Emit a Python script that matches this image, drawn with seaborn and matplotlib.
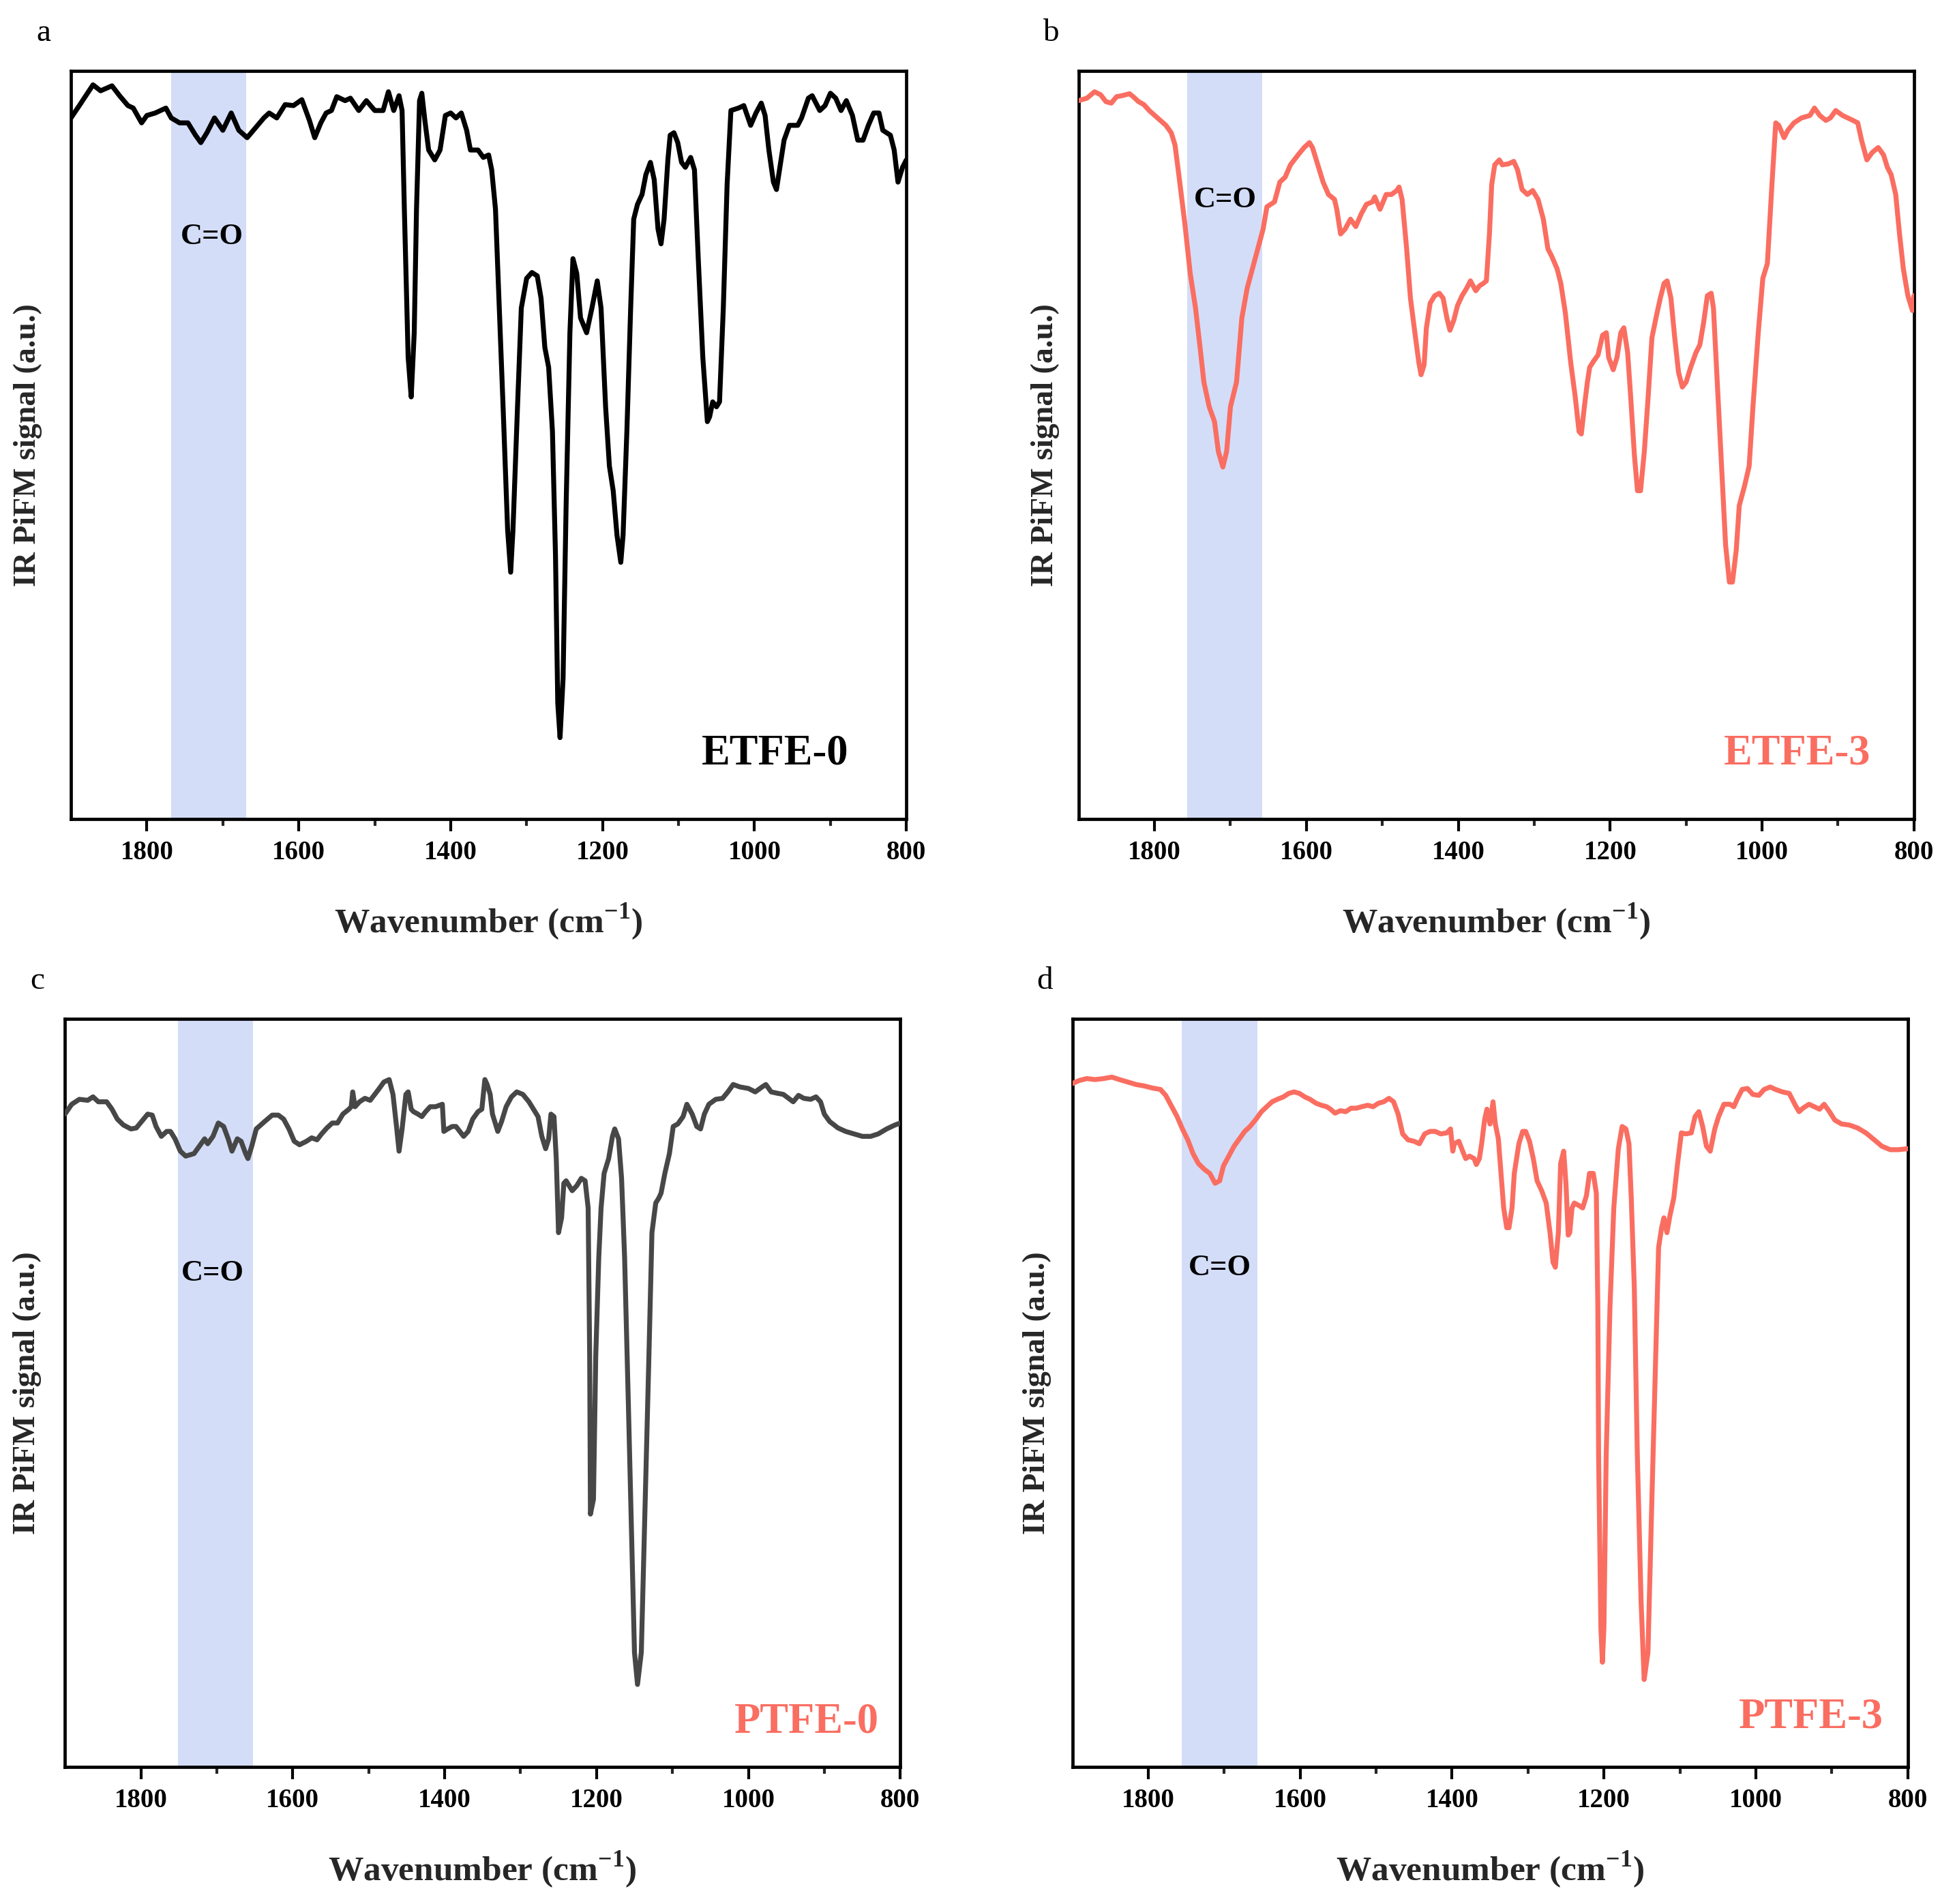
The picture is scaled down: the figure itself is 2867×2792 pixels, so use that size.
import pandas as pd
import seaborn as sns
import matplotlib.pyplot as plt

# ---- data (wavenumber in cm-1, IR PiFM signal in a.u.) ----
etfe0_wn = [1900, 1889, 1871, 1861, 1846, 1836, 1825, 1818, 1807, 1800,
            1789, 1782, 1775, 1768, 1757, 1746, 1736, 1729, 1721, 1711,
            1700, 1689, 1679, 1668, 1657, 1646, 1639, 1629, 1618, 1607,
            1596, 1586, 1579, 1571, 1564, 1557, 1550, 1539, 1532, 1521,
            1511, 1500, 1489, 1482, 1475, 1468, 1464, 1461, 1456, 1452,
            1448, 1445, 1441, 1438, 1434, 1429, 1421, 1414, 1407, 1400,
            1393, 1386, 1379, 1374, 1364, 1357, 1350, 1346, 1341, 1336,
            1331, 1325, 1321, 1318, 1312, 1307, 1300, 1293, 1286, 1281,
            1276, 1271, 1266, 1262, 1259, 1256, 1252, 1248, 1243, 1239,
            1234, 1229, 1221, 1214, 1207, 1202, 1196, 1191, 1186, 1181,
            1176, 1173, 1168, 1163, 1159, 1154, 1148, 1143, 1137, 1132,
            1127, 1123, 1119, 1114, 1111, 1106, 1101, 1096, 1091, 1084,
            1079, 1074, 1068, 1062, 1059, 1055, 1050, 1046, 1041, 1036,
            1031, 1021, 1014, 1005, 998, 991, 986, 981, 975, 971,
            967, 961, 954, 943, 938, 929, 924, 914, 907, 900,
            893, 886, 879, 871, 864, 857, 850, 843, 836, 831,
            821, 816, 811, 805, 800]
etfe0_signal = [142.0, 144.5, 148.7, 147.5, 148.5, 146.5, 144.5, 144.0, 141.0, 142.5,
                143.0, 143.5, 144.0, 142.0, 141.0, 141.0, 138.5, 137.0, 139.0, 142.0,
                139.5, 143.0, 139.5, 138.0, 140.0, 142.0, 143.0, 142.0, 144.7, 144.5,
                145.7, 141.5, 138.0, 141.0, 143.0, 143.5, 146.3, 145.5, 146.0, 143.5,
                145.5, 143.5, 143.5, 147.3, 143.5, 146.5, 143.5, 123.5, 93.5, 85.5,
                98.5, 123.5, 145.5, 147.0, 141.5, 135.5, 133.5, 135.5, 142.5, 143.0,
                142.0, 143.0, 139.5, 135.5, 135.5, 134.0, 134.5, 131.5, 123.5, 103.5,
                83.5, 58.5, 50.0, 58.5, 83.5, 103.5, 109.5, 110.7, 110.0, 105.5,
                95.5, 91.5, 78.5, 53.5, 23.5, 16.5, 28.5, 63.5, 98.5, 113.5,
                110.5, 101.5, 98.5, 103.5, 109.0, 103.5, 83.5, 71.5, 66.5, 57.5,
                52.0, 57.5, 78.5, 103.5, 121.5, 124.5, 126.5, 130.5, 133.0, 129.5,
                119.5, 116.5, 121.5, 133.5, 138.5, 139.0, 137.0, 133.0, 132.0, 134.0,
                131.5, 113.5, 93.5, 80.5, 81.5, 84.5, 83.5, 84.5, 103.5, 128.5,
                143.5, 144.0, 144.5, 140.5, 143.0, 145.0, 142.5, 135.5, 129.0, 127.5,
                131.5, 137.5, 140.5, 140.5, 142.0, 146.0, 146.5, 143.5, 144.5, 147.0,
                146.0, 143.5, 145.5, 142.5, 137.5, 137.5, 140.5, 143.0, 143.0, 139.5,
                138.5, 135.5, 129.0, 132.0, 133.5]

etfe3_wn = [1900, 1889, 1879, 1871, 1864, 1857, 1850, 1843, 1833, 1828,
            1821, 1814, 1807, 1796, 1785, 1778, 1773, 1768, 1760, 1753,
            1746, 1740, 1735, 1728, 1721, 1716, 1710, 1705, 1700, 1692,
            1685, 1678, 1671, 1664, 1657, 1652, 1642, 1635, 1628, 1621,
            1611, 1603, 1596, 1592, 1585, 1578, 1571, 1563, 1560, 1555,
            1549, 1542, 1535, 1528, 1521, 1513, 1510, 1503, 1495, 1488,
            1481, 1478, 1474, 1468, 1463, 1458, 1452, 1449, 1445, 1442,
            1437, 1431, 1425, 1420, 1415, 1411, 1406, 1401, 1395, 1389,
            1384, 1377, 1372, 1367, 1363, 1359, 1356, 1352, 1346, 1342,
            1334, 1327, 1322, 1316, 1309, 1302, 1295, 1288, 1282, 1277,
            1270, 1265, 1259, 1252, 1246, 1241, 1238, 1234, 1230, 1227,
            1222, 1216, 1210, 1205, 1202, 1196, 1191, 1186, 1182, 1177,
            1173, 1168, 1164, 1160, 1155, 1150, 1145, 1139, 1134, 1129,
            1125, 1120, 1115, 1110, 1105, 1100, 1094, 1087, 1082, 1077,
            1072, 1067, 1064, 1059, 1053, 1048, 1043, 1039, 1034, 1030,
            1023, 1017, 1012, 1005, 999, 993, 987, 982, 978, 971,
            966, 958, 948, 937, 931, 924, 916, 910, 903, 894,
            883, 874, 869, 862, 855, 847, 840, 835, 830, 824,
            819, 814, 808, 802, 800]
etfe3_signal = [145.5, 146.0, 147.3, 146.7, 145.3, 145.0, 146.3, 146.5, 146.9, 146.3,
                145.3, 144.7, 143.5, 142.0, 140.5, 139.0, 136.5, 130.5, 120.5, 110.5,
                103.5, 95.5, 88.5, 83.5, 80.5, 74.5, 71.3, 74.5, 83.5, 88.5,
                101.5, 107.5, 111.5, 115.5, 119.5, 124.0, 125.0, 129.0, 130.0, 132.5,
                134.5, 136.0, 137.0, 136.0, 132.5, 129.0, 126.5, 125.5, 123.5, 118.5,
                119.5, 121.5, 120.0, 122.5, 124.5, 125.0, 126.0, 123.5, 126.5, 126.5,
                127.3, 128.0, 125.5, 115.5, 105.5, 99.5, 92.5, 90.0, 92.0, 99.5,
                104.5, 106.0, 106.5, 105.5, 101.5, 99.0, 101.0, 104.0, 106.0, 107.5,
                109.0, 107.0, 108.0, 108.5, 109.0, 118.5, 128.5, 132.5, 133.5, 132.5,
                132.7, 133.2, 131.5, 127.5, 126.5, 127.3, 125.5, 121.5, 115.5, 114.0,
                111.5, 108.5, 102.5, 92.5, 85.5, 78.5, 78.0, 83.5, 88.5, 91.5,
                92.7, 94.0, 98.0, 98.5, 93.5, 91.0, 93.5, 98.5, 99.5, 94.5,
                85.5, 73.5, 66.5, 66.5, 74.5, 85.5, 97.5, 102.0, 105.5, 108.5,
                109.0, 105.5, 97.5, 90.5, 87.5, 88.5, 91.5, 94.5, 96.0, 100.5,
                106.0, 106.5, 103.5, 88.5, 70.5, 55.5, 48.0, 48.0, 54.5, 63.5,
                67.5, 71.5, 83.5, 98.5, 109.5, 112.5, 128.5, 141.0, 140.5, 138.0,
                139.5, 141.0, 142.0, 142.5, 144.0, 142.5, 141.5, 142.0, 143.5, 142.5,
                141.7, 141.0, 137.5, 133.5, 135.0, 136.0, 134.5, 132.0, 130.5, 126.5,
                118.5, 111.5, 106.0, 103.0, 106.0]

ptfe0_wn = [1900, 1891, 1881, 1870, 1863, 1856, 1845, 1838, 1831, 1823,
            1813, 1806, 1799, 1791, 1785, 1780, 1773, 1766, 1761, 1755,
            1748, 1741, 1730, 1723, 1716, 1712, 1705, 1698, 1691, 1685,
            1680, 1673, 1668, 1662, 1659, 1654, 1648, 1637, 1627, 1619,
            1612, 1605, 1598, 1591, 1582, 1575, 1568, 1562, 1555, 1548,
            1541, 1534, 1526, 1523, 1521, 1518, 1512, 1505, 1498, 1487,
            1480, 1473, 1468, 1463, 1460, 1456, 1451, 1448, 1444, 1441,
            1435, 1430, 1425, 1419, 1412, 1403, 1401, 1396, 1390, 1385,
            1380, 1375, 1369, 1363, 1356, 1351, 1347, 1344, 1340, 1337,
            1333, 1330, 1325, 1319, 1312, 1305, 1297, 1289, 1283, 1277,
            1272, 1267, 1263, 1260, 1256, 1253, 1250, 1246, 1243, 1240,
            1236, 1232, 1226, 1220, 1215, 1211, 1209, 1208, 1204, 1201,
            1197, 1194, 1190, 1184, 1179, 1176, 1171, 1167, 1163, 1158,
            1154, 1150, 1146, 1141, 1136, 1131, 1127, 1122, 1118, 1115,
            1110, 1104, 1099, 1093, 1086, 1081, 1074, 1068, 1063, 1058,
            1052, 1043, 1034, 1027, 1020, 1011, 1000, 991, 982, 977,
            970, 961, 954, 947, 941, 934, 927, 918, 911, 905,
            900, 893, 882, 872, 861, 850, 839, 829, 818, 807,
            800]
ptfe0_signal = [132.2, 134.2, 135.2, 135.0, 135.7, 134.7, 134.7, 133.2, 131.2, 130.0,
                129.2, 129.4, 130.7, 132.2, 132.0, 129.7, 127.7, 128.7, 128.7, 127.2,
                124.7, 123.7, 124.2, 125.7, 127.2, 126.2, 127.7, 130.4, 129.7, 127.2,
                124.7, 127.2, 126.7, 124.2, 123.2, 125.7, 129.2, 130.7, 132.0, 132.0,
                131.2, 129.2, 126.7, 126.0, 126.7, 127.4, 127.0, 128.2, 129.4, 130.4,
                130.4, 132.2, 133.2, 133.7, 136.7, 133.7, 134.7, 135.4, 135.0, 137.2,
                138.7, 139.2, 136.2, 129.2, 124.7, 129.2, 136.2, 136.7, 133.2, 132.7,
                132.2, 131.7, 132.7, 133.7, 133.7, 134.2, 128.7, 129.2, 129.7, 129.7,
                128.7, 127.7, 128.7, 131.2, 132.7, 133.2, 139.2, 138.2, 136.2, 132.2,
                130.2, 128.7, 130.7, 133.7, 135.7, 136.7, 136.2, 134.7, 133.2, 131.7,
                127.7, 125.2, 127.2, 132.2, 131.7, 123.2, 108.2, 111.2, 118.2, 118.7,
                117.7, 116.7, 117.7, 119.2, 118.7, 113.2, 83.2, 51.2, 54.2, 83.2,
                103.2, 113.2, 120.2, 123.2, 127.7, 129.2, 127.2, 119.2, 103.2, 73.2,
                48.2, 23.2, 16.7, 23.2, 53.2, 83.2, 108.2, 114.2, 115.2, 116.2,
                120.2, 124.2, 129.7, 130.2, 131.7, 134.2, 132.2, 129.7, 129.2, 132.2,
                134.2, 135.2, 135.4, 136.7, 138.2, 137.7, 137.4, 136.7, 137.7, 138.2,
                136.7, 136.4, 136.2, 135.4, 134.7, 136.0, 135.4, 135.2, 135.7, 134.7,
                132.2, 130.7, 129.4, 128.7, 128.2, 127.7, 127.7, 128.2, 129.2, 130.0,
                130.4]

ptfe3_wn = [1900, 1891, 1881, 1870, 1859, 1848, 1838, 1827, 1816, 1805,
            1795, 1784, 1777, 1769, 1762, 1755, 1748, 1741, 1734, 1726,
            1719, 1712, 1706, 1701, 1694, 1687, 1680, 1673, 1666, 1658,
            1651, 1644, 1637, 1630, 1622, 1615, 1608, 1601, 1594, 1587,
            1579, 1572, 1565, 1560, 1554, 1547, 1540, 1533, 1526, 1519,
            1511, 1504, 1497, 1490, 1483, 1477, 1471, 1465, 1458, 1450,
            1443, 1436, 1429, 1422, 1415, 1407, 1402, 1399, 1397, 1391,
            1386, 1382, 1377, 1371, 1368, 1364, 1361, 1357, 1354, 1350,
            1346, 1343, 1339, 1336, 1332, 1328, 1325, 1321, 1318, 1312,
            1307, 1303, 1298, 1293, 1288, 1282, 1276, 1271, 1267, 1264,
            1260, 1257, 1253, 1250, 1247, 1245, 1242, 1239, 1233, 1228,
            1223, 1219, 1214, 1210, 1208, 1207, 1204, 1202, 1200, 1197,
            1192, 1187, 1181, 1176, 1171, 1167, 1164, 1160, 1156, 1151,
            1147, 1142, 1137, 1131, 1128, 1124, 1121, 1117, 1113, 1108,
            1103, 1098, 1092, 1085, 1080, 1075, 1070, 1065, 1060, 1054,
            1049, 1042, 1034, 1029, 1024, 1018, 1011, 1004, 996, 989,
            981, 974, 965, 956, 948, 943, 938, 930, 923, 916,
            910, 903, 896, 887, 877, 866, 855, 844, 834, 823,
            812, 800]
ptfe3_signal = [138.4, 139.0, 139.4, 139.2, 139.4, 139.7, 139.2, 138.7, 138.2, 137.9,
                137.5, 137.2, 136.0, 133.7, 131.7, 129.2, 127.0, 124.2, 122.2, 121.0,
                120.2, 118.2, 118.7, 121.7, 123.7, 125.7, 127.2, 128.7, 129.7, 131.2,
                132.7, 133.7, 134.7, 135.2, 135.7, 136.4, 136.7, 136.4, 135.7, 135.2,
                134.4, 134.0, 133.7, 133.2, 132.4, 132.9, 132.7, 133.4, 133.4, 133.7,
                134.0, 133.7, 134.4, 134.7, 135.4, 134.7, 132.2, 128.2, 127.0, 126.7,
                126.2, 128.2, 128.7, 128.7, 128.2, 128.4, 129.2, 124.7, 126.2, 126.7,
                124.7, 123.2, 123.7, 123.2, 122.0, 123.2, 126.2, 131.2, 133.2, 130.2,
                134.7, 130.2, 127.2, 121.2, 113.2, 109.2, 109.2, 113.2, 120.2, 126.2,
                128.7, 128.7, 126.7, 123.2, 118.7, 116.7, 114.2, 108.2, 102.2, 101.2,
                108.2, 122.2, 124.7, 118.2, 107.7, 108.2, 113.2, 114.2, 113.7, 113.2,
                115.7, 120.2, 120.2, 116.2, 93.2, 63.2, 28.2, 21.2, 28.2, 63.2,
                93.2, 113.2, 125.2, 129.7, 129.2, 126.2, 115.2, 97.2, 63.2, 33.2,
                17.7, 23.2, 53.2, 88.2, 105.2, 109.2, 111.2, 108.2, 111.7, 115.2,
                122.2, 128.4, 128.2, 128.4, 131.7, 132.7, 129.7, 125.7, 124.7, 129.2,
                131.7, 134.2, 134.2, 133.7, 135.4, 137.2, 137.4, 136.2, 136.0, 137.2,
                137.7, 137.2, 136.7, 136.4, 134.0, 132.7, 133.4, 134.2, 133.7, 133.2,
                134.2, 132.7, 131.0, 130.2, 130.0, 129.4, 128.4, 127.0, 125.7, 125.0,
                125.0, 125.2]

sample_names = ["ETFE-0", "ETFE-3", "PTFE-0", "PTFE-3"]
panel_letters = ["a", "b", "c", "d"]
# C=O band limits (cm-1) for each panel
band_high = [1768, 1757, 1751, 1756]
band_low = [1669, 1658, 1652, 1656]
xticks_major = [1800, 1600, 1400, 1200, 1000, 800]
xticks_minor = [1700, 1500, 1300, 1100, 900]

SALMON = "#FA6E61"
line_colors = ["#000000", SALMON, "#474747", SALMON]
name_colors = ["#000000", SALMON, SALMON, SALMON]
BAND = "#D3DDF8"

sns.set_theme(style="ticks")
plt.rcParams["font.family"] = ["Liberation Serif", "DejaVu Serif"]
plt.rcParams["mathtext.fontset"] = "custom"
plt.rcParams["mathtext.rm"] = "Liberation Serif"
plt.rcParams["mathtext.bf"] = "Liberation Serif:bold"

fig = plt.figure(figsize=(28.67, 27.92), dpi=100)
fig.patch.set_facecolor("white")

# axes boxes [left, bottom, width, height] in figure fractions
boxes = [[0.0363, 0.5698, 0.4273, 0.3929],
         [0.5517, 0.5698, 0.4273, 0.3929],
         [0.0332, 0.0720, 0.4273, 0.3929],
         [0.5485, 0.0720, 0.4273, 0.3929]]
letter_pos = [(0.0223, 0.9824), (0.5375, 0.9824), (0.0192, 0.4846), (0.5344, 0.4846)]
ylabel_x = [-0.052, -0.040, -0.045, -0.042]
co_pos = [(1714, 0.779), (1707, 0.828), (1705, 0.660), (1706, 0.667)]
name_pos = [(0.843, 0.087), (0.860, 0.087), (0.888, 0.060), (0.884, 0.066)]

spectra = [(etfe0_wn, etfe0_signal), (etfe3_wn, etfe3_signal),
           (ptfe0_wn, ptfe0_signal), (ptfe3_wn, ptfe3_signal)]

for i, (wn, sig) in enumerate(spectra):
    ax = fig.add_axes(boxes[i])
    df = pd.DataFrame({"wavenumber": wn, "signal": sig})

    ax.axvspan(band_high[i], band_low[i], color=BAND, lw=0, zorder=0)
    sns.lineplot(data=df, x="wavenumber", y="signal", ax=ax, sort=False,
                 estimator=None, color=line_colors[i], lw=5.2, zorder=3,
                 solid_joinstyle="round", solid_capstyle="round")

    ax.set_xlim(1900, 800)
    ax.set_ylim(0, 151.5)
    ax.set_yticks([])
    ax.set_xticks(xticks_major)
    ax.set_xticks(xticks_minor, minor=True)
    ax.set_xticklabels([str(t) for t in xticks_major], fontsize=28, fontweight="bold")
    ax.tick_params(axis="x", which="major", direction="out", length=13, width=3,
                   pad=9, colors="black")
    ax.tick_params(axis="x", which="minor", direction="out", length=7, width=3)
    for sp in ax.spines.values():
        sp.set_linewidth(3.4)
        sp.set_color("black")
        sp.set_visible(True)

    ax.set_xlabel(r"Wavenumber (cm$^{\mathbf{-1}}$)", fontsize=37, fontweight="bold")
    ax.xaxis.label.set_va("center")
    ax.xaxis.set_label_coords(0.5, -0.138)
    ax.set_ylabel("IR PiFM signal (a.u.)", fontsize=33, fontweight="bold")
    ax.yaxis.label.set_va("center")
    ax.yaxis.set_label_coords(ylabel_x[i], 0.5)

    ax.text(co_pos[i][0], co_pos[i][1], "C=O", transform=ax.get_xaxis_transform(),
            ha="center", va="center", fontsize=32, fontweight="bold", color="black",
            zorder=4)
    ax.text(name_pos[i][0], name_pos[i][1], sample_names[i], transform=ax.transAxes,
            ha="center", va="center", fontsize=45, fontweight="bold",
            color=name_colors[i], zorder=4)

    fig.text(letter_pos[i][0], letter_pos[i][1], panel_letters[i], ha="center",
             va="center", fontsize=34, color="black")

fig.savefig("out.png", dpi=100, facecolor="white")
